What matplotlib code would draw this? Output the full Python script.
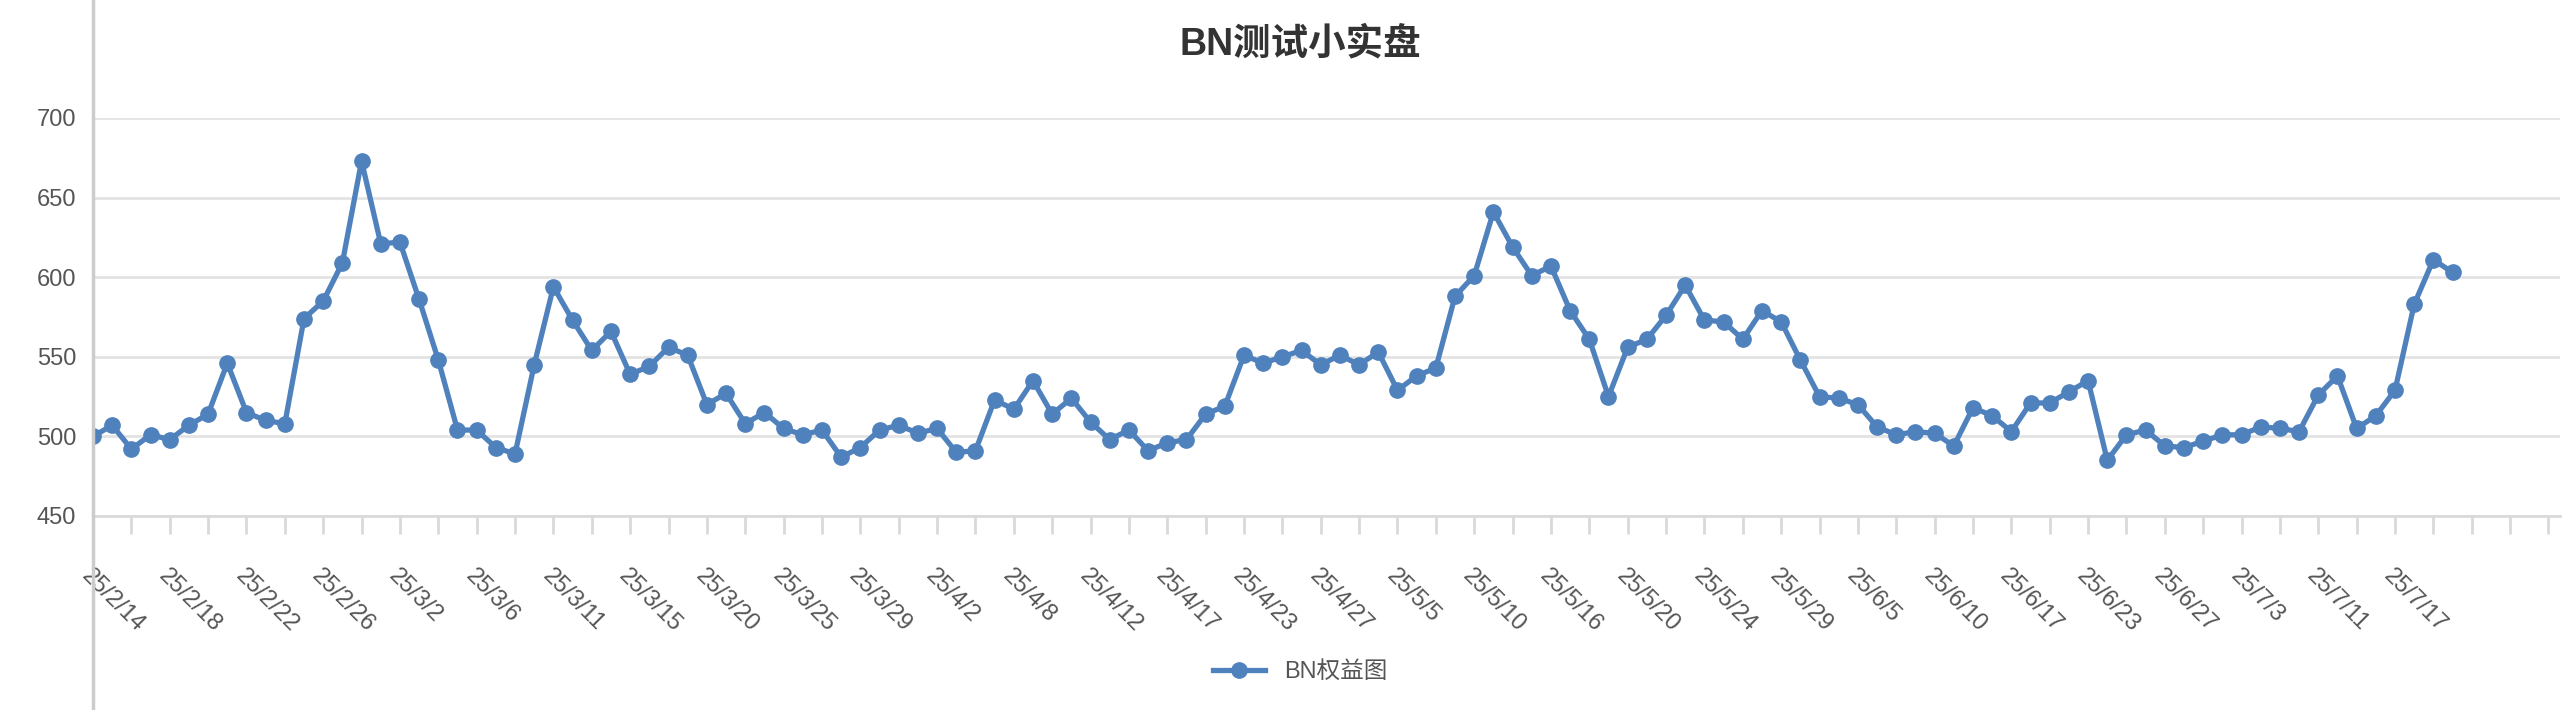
import matplotlib
matplotlib.use("Agg")
from matplotlib import pyplot as plt
from matplotlib.lines import Line2D
import numpy as np

plt.rcParams['font.family'] = ['Liberation Sans', 'Noto Sans CJK SC']

title = "BN测试小实盘"
series_name = "BN权益图"

# equity values, one per trading record
equity = [500, 507, 492, 501, 498, 507, 514, 546, 515, 510, 508, 574, 585, 609, 673, 621,
          622, 586, 548, 504, 504, 493, 489, 545, 594, 573, 554, 566, 539, 544, 556, 551,
          520, 527, 508, 515, 505, 501, 504, 487, 493, 504, 507, 502, 505, 490, 491, 523,
          517, 535, 514, 524, 509, 498, 504, 491, 496, 498, 514, 519, 551, 546, 550, 554,
          545, 551, 545, 553, 529, 538, 543, 588, 601, 641, 619, 601, 607, 579, 561, 525,
          556, 561, 576, 595, 573, 572, 561, 579, 572, 548, 525, 524, 520, 506, 501, 503,
          502, 494, 518, 513, 503, 521, 521, 528, 535, 485, 501, 504, 494, 493, 497, 501,
          501, 506, 505, 503, 526, 538, 505, 513, 529, 583, 611, 603]

# shown date labels (every 4th record)
date_labels = ["25/2/14", "25/2/18", "25/2/22", "25/2/26", "25/3/2", "25/3/6", "25/3/11",
               "25/3/15", "25/3/20", "25/3/25", "25/3/29", "25/4/2", "25/4/8", "25/4/12",
               "25/4/17", "25/4/23", "25/4/27", "25/5/5", "25/5/10", "25/5/16", "25/5/20",
               "25/5/24", "25/5/29", "25/6/5", "25/6/10", "25/6/17", "25/6/23", "25/6/27",
               "25/7/3", "25/7/11", "25/7/17"]

blue = '#4f81bd'
grey = '#555555'

fig = plt.figure(figsize=(25.66, 7.10), dpi=100)
ax = fig.add_axes([93 / 2566, 1 - 516 / 710, (2560 - 93) / 2566, (516 - 118) / 710])

x = np.arange(len(equity))
ax.plot(x, equity, color=blue, lw=3.8, marker='o', ms=11, label=series_name, zorder=3)

ax.set_ylim(450, 700)
ax.set_xlim(0, 128.6)
ax.set_yticks([450, 500, 550, 600, 650, 700])
ax.yaxis.grid(True, color='#e3e3e3', lw=2)
ax.set_axisbelow(True)
ax.tick_params(axis='y', length=0, labelsize=17, labelcolor=grey, pad=12)

ax.set_xticks(np.arange(0, 130, 2), minor=True)
ax.set_xticks(np.arange(0, len(date_labels) * 4, 4))
ax.set_xticklabels(date_labels, rotation=-45, ha='left', va='top',
                   rotation_mode='anchor', fontsize=17, color=grey)
ax.tick_params(axis='x', which='both', length=13, width=2, color='#d9d9d9', pad=22)

for s in ['top', 'right', 'left']:
    ax.spines[s].set_visible(False)
ax.spines['bottom'].set_color('#d9d9d9')
ax.spines['bottom'].set_linewidth(2)

# full-height left axis line
fig.add_artist(Line2D([93 / 2566, 93 / 2566], [0, 1], color='#cccccc', lw=2.5))

fig.text(1300 / 2566, 1 - 44 / 710, title, ha='center', va='center',
         fontsize=27, fontweight='bold', color='#333333')
fig.legend(loc='center', bbox_to_anchor=(1300 / 2566, 1 - 672 / 710), frameon=False,
           fontsize=17, labelcolor=grey, handlelength=2.2)

fig.savefig('out.png', dpi=100)
